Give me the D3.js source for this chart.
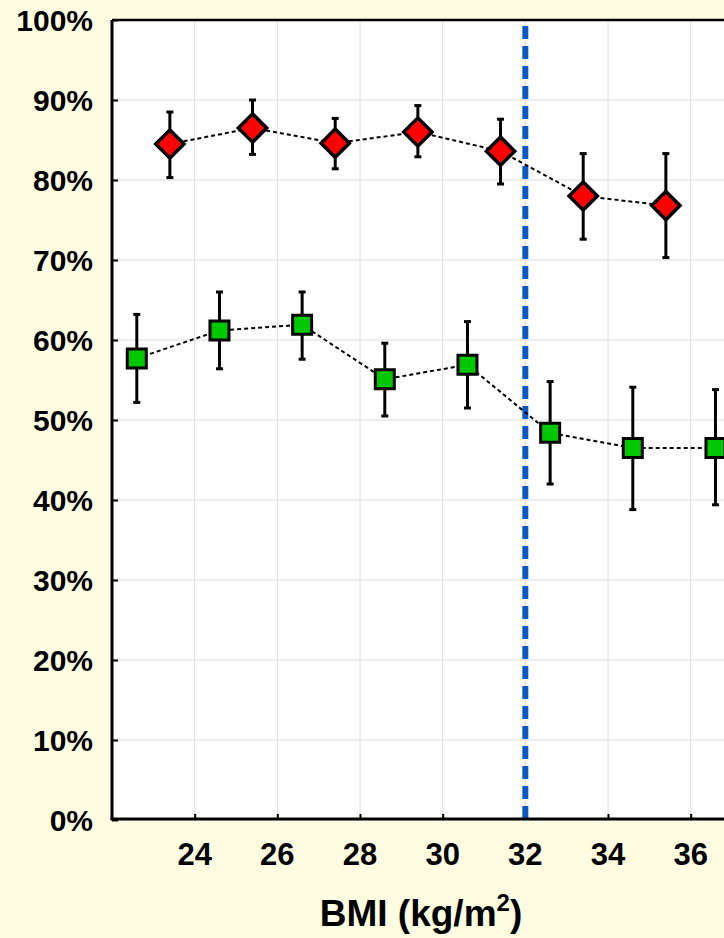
<!DOCTYPE html>
<html>
<head>
<meta charset="utf-8">
<script src="https://cdn.jsdelivr.net/npm/d3@7"></script>
<style>
  html, body { margin: 0; padding: 0; background: #FFFDE1; }
  svg { display: block; }
  text { font-family: "Liberation Sans", Arial, sans-serif; font-weight: bold; fill: #000; }
</style>
</head>
<body>
<svg id="chart" width="724" height="938"></svg>
<script>
// ---- data ----
const bmiRed   = [23.4, 25.4, 27.4, 29.4, 31.4, 33.4, 35.4];
const redVal   = [84.5, 86.5, 84.6, 86.0, 83.6, 78.0, 76.8];
const redLo    = [80.3, 83.2, 81.4, 82.9, 79.5, 72.6, 70.3];
const redHi    = [88.5, 90.0, 87.7, 89.3, 87.6, 83.3, 83.3];

const bmiGreen = [22.6, 24.6, 26.6, 28.6, 30.6, 32.6, 34.6, 36.6];
const greenVal = [57.7, 61.2, 61.9, 55.1, 56.9, 48.4, 46.5, 46.5];
const greenLo  = [52.2, 56.4, 57.6, 50.5, 51.5, 42.0, 38.8, 39.4];
const greenHi  = [63.2, 66.0, 66.0, 59.6, 62.3, 54.8, 54.1, 53.8];

const xTicks = [24, 26, 28, 30, 32, 34, 36];
const yTicks = [0, 10, 20, 30, 40, 50, 60, 70, 80, 90, 100];
const cutoffBMI = 32;
const xTitle = "BMI (kg/m";
const xTitleSup = "2";
const xTitleEnd = ")";

// ---- layout ----
const svg = d3.select("#chart");
const pL = 112, pT = 20, pB = 820, pR = 732;
const x = d3.scaleLinear().domain([22, 37]).range([pL, pR]);
const y = d3.scaleLinear().domain([0, 100]).range([pB, pT]);

// background
svg.append("rect").attr("width", 724).attr("height", 938).attr("fill", "#FFFDE1");
svg.append("rect").attr("x", pL).attr("y", pT).attr("width", pR - pL).attr("height", pB - pT).attr("fill", "#fff");

// grid
svg.append("g").selectAll("line").data(yTicks).join("line")
  .attr("x1", pL).attr("x2", pR).attr("y1", d => y(d)).attr("y2", d => y(d))
  .attr("stroke", "#dcdcdc").attr("stroke-width", 1);
svg.append("g").selectAll("line").data(xTicks).join("line")
  .attr("y1", pT).attr("y2", pB).attr("x1", d => x(d)).attr("x2", d => x(d))
  .attr("stroke", "#dcdcdc").attr("stroke-width", 1);

// axes (inward ticks)
const yAxis = d3.axisRight(y).tickValues(yTicks).tickSize(6).tickFormat("");
svg.append("g").attr("transform", `translate(${pL},0)`).call(yAxis)
  .call(g => g.select(".domain").remove())
  .call(g => g.selectAll(".tick line").attr("stroke", "#000").attr("stroke-width", 2));
const xAxis = d3.axisTop(x).tickValues(xTicks).tickSize(6).tickFormat("");
svg.append("g").attr("transform", `translate(0,${pB})`).call(xAxis)
  .call(g => g.select(".domain").remove())
  .call(g => g.selectAll(".tick line").attr("stroke", "#000").attr("stroke-width", 2));

// tick labels
svg.append("g").selectAll("text").data(yTicks).join("text")
  .attr("x", 93).attr("y", d => y(d) + 11)
  .attr("text-anchor", "end").attr("font-size", 30)
  .text(d => d + "%");
svg.append("g").selectAll("text").data(xTicks).join("text")
  .attr("x", d => x(d)).attr("y", 865)
  .attr("text-anchor", "middle").attr("font-size", 31)
  .text(d => d);

// cutoff line
svg.append("line")
  .attr("x1", x(cutoffBMI)).attr("x2", x(cutoffBMI))
  .attr("y1", pT + 6).attr("y2", pB)
  .attr("stroke", "#0D58C4").attr("stroke-width", 6)
  .attr("stroke-dasharray", "13,7");

// frame
svg.append("line").attr("x1", pL).attr("x2", pR).attr("y1", pT).attr("y2", pT).attr("stroke", "#000").attr("stroke-width", 2.5);
svg.append("line").attr("x1", pL).attr("x2", pL).attr("y1", pT).attr("y2", pB).attr("stroke", "#000").attr("stroke-width", 3);
svg.append("line").attr("x1", pL - 1.5).attr("x2", pR).attr("y1", pB - 1).attr("y2", pB - 1).attr("stroke", "#000").attr("stroke-width", 3);

function series(xs, vals, lo, hi, shape, fill) {
  const data = xs.map((b, i) => ({ b, v: vals[i], lo: lo[i], hi: hi[i] }));
  const g = svg.append("g");
  g.append("path").datum(data)
    .attr("d", d3.line().x(d => x(d.b)).y(d => y(d.v)))
    .attr("fill", "none").attr("stroke", "#000").attr("stroke-width", 2)
    .attr("stroke-dasharray", "4,3");
  const eb = g.append("g").selectAll("g").data(data).join("g");
  eb.append("line").attr("x1", d => x(d.b)).attr("x2", d => x(d.b))
    .attr("y1", d => y(d.lo)).attr("y2", d => y(d.hi))
    .attr("stroke", "#000").attr("stroke-width", 3);
  eb.append("line").attr("x1", d => x(d.b) - 3.5).attr("x2", d => x(d.b) + 3.5)
    .attr("y1", d => y(d.lo)).attr("y2", d => y(d.lo))
    .attr("stroke", "#000").attr("stroke-width", 3);
  eb.append("line").attr("x1", d => x(d.b) - 3.5).attr("x2", d => x(d.b) + 3.5)
    .attr("y1", d => y(d.hi)).attr("y2", d => y(d.hi))
    .attr("stroke", "#000").attr("stroke-width", 3);
  const sym = d3.symbol().type(d3.symbolSquare).size(shape === "diamond" ? 20 * 20 : 19 * 19);
  g.append("g").selectAll("path").data(data).join("path")
    .attr("d", sym)
    .attr("transform", d => `translate(${x(d.b)},${y(d.v)})` + (shape === "diamond" ? " rotate(45)" : ""))
    .attr("fill", fill).attr("stroke", "#000").attr("stroke-width", shape === "diamond" ? 3.5 : 3);
}

series(bmiRed, redVal, redLo, redHi, "diamond", "#FF0000");
series(bmiGreen, greenVal, greenLo, greenHi, "square", "#00C800");

// x title
const t = svg.append("text").attr("x", 421).attr("y", 926)
  .attr("text-anchor", "middle").attr("font-size", 37);
t.append("tspan").text(xTitle);
t.append("tspan").attr("dy", -15).attr("font-size", 24).text(xTitleSup);
t.append("tspan").attr("dy", 15).text(xTitleEnd);
</script>
</body>
</html>
